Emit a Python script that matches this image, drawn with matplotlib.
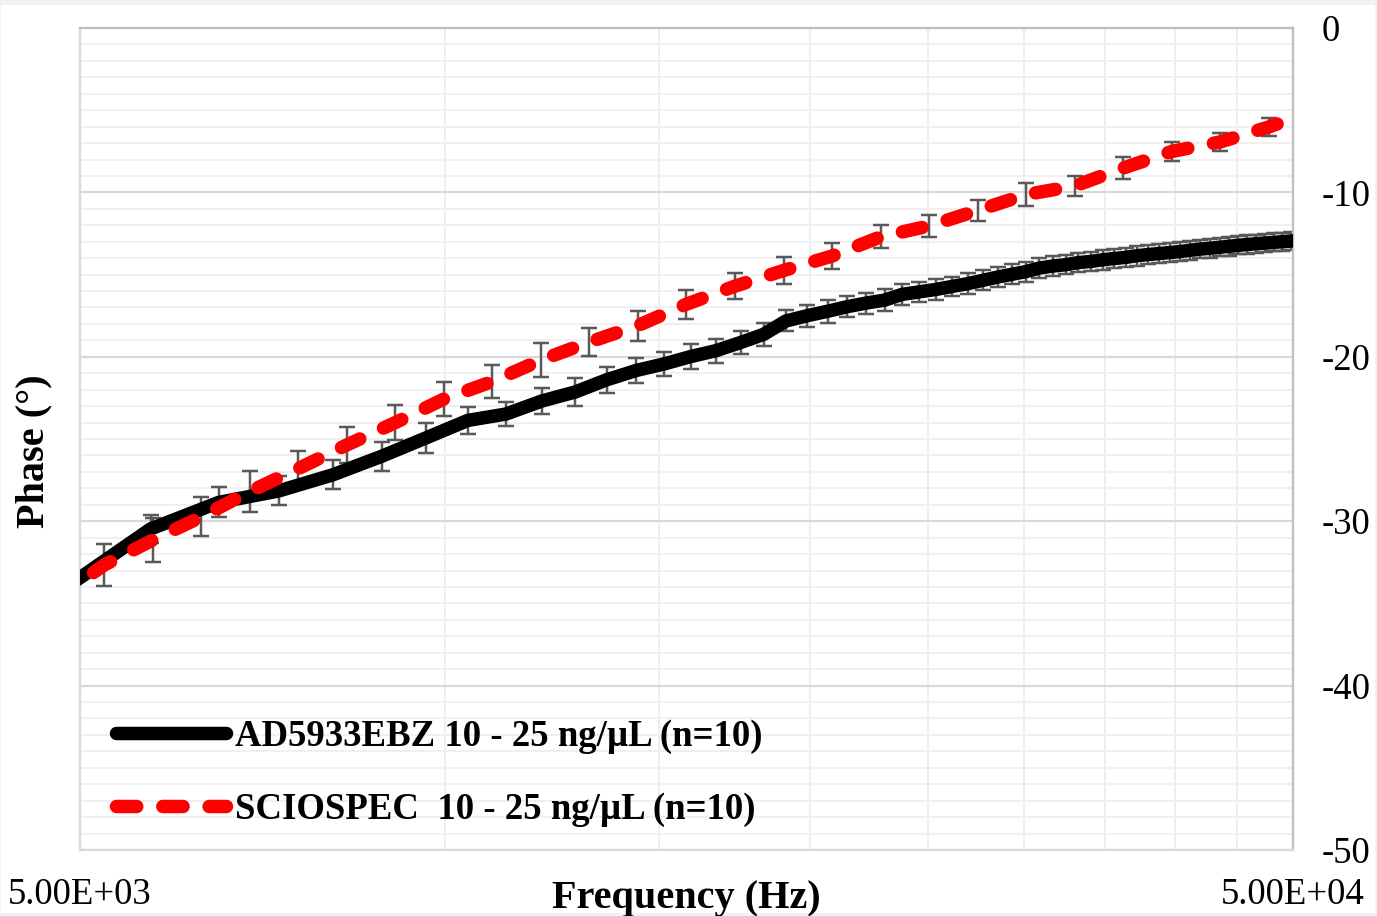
import matplotlib
matplotlib.use("Agg")
import matplotlib.pyplot as plt
from matplotlib.ticker import FixedLocator, NullFormatter, FixedFormatter
from matplotlib.font_manager import FontProperties
from matplotlib.patches import Rectangle

plt.rcParams['font.family'] = ['Liberation Serif', 'DejaVu Serif']
plt.rcParams['axes.unicode_minus'] = False

# ---------------- data ----------------
ad_freq = [4930, 5717, 6504, 7291, 8078, 8865, 9652, 10439, 11226, 12013,
           12800, 13587, 14374, 15161, 15948, 16735, 17522, 18309, 19096, 19883,
           20670, 21457, 22244, 23031, 23818, 24605, 25392, 26179, 26966, 27753,
           28540, 29327, 30114, 30901, 31688, 32475, 33262, 34049, 34836, 35623,
           36410, 37197, 37984, 38771, 39558, 40345, 41132, 41919, 42706, 43493,
           44280, 45067, 45854, 46641, 47428, 48215, 49002, 49789, 50576]
ad_phase = [-33.75, -30.47, -28.86, -28.16, -27.18, -26.05, -24.92, -23.87, -23.48, -22.69,
            -22.14, -21.40, -20.83, -20.43, -19.98, -19.62, -19.13, -18.63, -17.82, -17.50,
            -17.23, -16.95, -16.73, -16.55, -16.20, -16.05, -15.90, -15.72, -15.55, -15.35,
            -15.15, -14.98, -14.82, -14.60, -14.48, -14.40, -14.27, -14.20, -14.10, -14.02,
            -13.95, -13.85, -13.78, -13.72, -13.66, -13.60, -13.52, -13.45, -13.40, -13.34,
            -13.28, -13.22, -13.17, -13.12, -13.08, -13.04, -13.00, -12.96, -12.92]
ad_err = [0.90, 0.85, 0.91, 0.88, 0.88, 0.88, 0.91, 0.82, 0.73, 0.79,
          0.85, 0.79, 0.76, 0.73, 0.76, 0.73, 0.70, 0.70, 0.64, 0.67,
          0.70, 0.64, 0.64, 0.67, 0.65, 0.62, 0.64, 0.60, 0.62, 0.60,
          0.62, 0.60, 0.60, 0.62, 0.60, 0.58, 0.60, 0.58, 0.60, 0.58,
          0.58, 0.60, 0.58, 0.56, 0.58, 0.56, 0.58, 0.56, 0.56, 0.55,
          0.56, 0.55, 0.55, 0.55, 0.54, 0.55, 0.54, 0.54, 0.54]

sc_freq = [4775, 5236, 5741, 6295, 6902, 7568, 8298, 9099, 9976, 10939,
           11994, 13151, 14420, 15811, 17337, 19009, 20843, 22855, 25059, 27477,
           30128, 33035, 36222, 39716, 43548, 47750, 52360]
sc_phase = [-34.75, -32.66, -31.14, -29.74, -28.19, -26.80, -25.36, -24.00, -22.57, -21.50,
            -20.20, -19.10, -18.10, -16.80, -15.70, -14.75, -13.87, -12.70, -12.04, -11.10,
            -10.13, -9.61, -8.52, -7.51, -6.93, -6.02, -4.95]
sc_err = [1.30, 1.30, 1.33, 1.19, 1.22, 1.10, 1.12, 1.06, 1.06, 1.00,
          1.03, 0.88, 0.91, 0.88, 0.80, 0.82, 0.79, 0.70, 0.67, 0.64,
          0.70, 0.60, 0.67, 0.58, 0.55, 0.55, 0.55]

series_labels = ["AD5933EBZ 10 - 25 ng/\u00b5L (n=10)",
                 "SCIOSPEC  10 - 25 ng/\u00b5L (n=10)"]
x_tick_values = [5000, 50000]
x_tick_labels = ["5.00E+03", "5.00E+04"]
x_grid_values = [10000, 15000, 20000, 25000, 30000, 35000, 40000, 45000]
y_major = [-50, -40, -30, -20, -10, 0]
y_minor = [v for v in range(-50, 1)]

# ---------------- figure ----------------
W, H = 1377, 916
fig = plt.figure(figsize=(W / 100, H / 100), dpi=100, facecolor='#f2f2f2')
fig.patches.append(Rectangle((1 / W, 3 / H), 1374 / W, (913 - 4.5) / H,
                             transform=fig.transFigure, facecolor='white',
                             edgecolor='none', zorder=-10))

ax = fig.add_axes([80 / W, 1 - 850 / H, 1213 / W, 822 / H])
ax.set_facecolor('white')
ax.set_xscale('log')
ax.set_xlim(5000, 50000)
ax.set_ylim(-50, 0)

px = 0.72  # points per pixel at 100 dpi
err_kw = dict(fmt='none', ecolor='#595959', elinewidth=2.5 * px,
              capsize=8.3 * px, capthick=2.5 * px, zorder=2)
ax.errorbar(ad_freq, ad_phase, yerr=ad_err, **err_kw)
ax.errorbar(sc_freq, sc_phase, yerr=sc_err, **err_kw)

ax.plot(ad_freq, ad_phase, color='black', lw=13.5 * px,
        solid_capstyle='round', solid_joinstyle='round', zorder=3,
        label=series_labels[0])
ax.plot(sc_freq, sc_phase, color='#ff0000', lw=13.5 * px,
        dashes=(1.5, 1.93), dash_capstyle='round', dash_joinstyle='round',
        zorder=4, label=series_labels[1])

# ticks and grid
ax.xaxis.set_major_locator(FixedLocator(x_tick_values))
ax.xaxis.set_major_formatter(FixedFormatter(x_tick_labels))
ax.xaxis.set_minor_locator(FixedLocator(x_grid_values))
ax.xaxis.set_minor_formatter(NullFormatter())
ax.yaxis.set_major_locator(FixedLocator(y_major))
ax.yaxis.set_minor_locator(FixedLocator(y_minor))
ax.yaxis.set_major_formatter(FixedFormatter([str(v) for v in y_major]))
ax.yaxis.tick_right()

ax.tick_params(axis='both', which='both', length=0)
ax.tick_params(axis='y', which='major', pad=29 * px, labelsize=26.5, labelcolor='black')
ax.tick_params(axis='x', which='major', pad=27 * px, labelsize=26.5, labelcolor='black')

ax.set_axisbelow(True)
ax.grid(axis='y', which='minor', color='#f0f0f0', lw=2 * px)
ax.grid(axis='y', which='major', color='#d9d9d9', lw=2.2 * px)
ax.grid(axis='x', which='both', color='#eeeeee', lw=2 * px)

for side in ['top', 'right']:
    ax.spines[side].set_color('#bfbfbf')
    ax.spines[side].set_linewidth(2.3 * px)
for side in ['left', 'bottom']:
    ax.spines[side].set_color('#d9d9d9')
    ax.spines[side].set_linewidth(2.3 * px)

# axis titles
fig.text(686.5 / W, 1 - 908 / H, "Frequency (Hz)", ha='center', va='baseline',
         fontsize=29, fontweight='bold')
fig.text(34 / W, 1 - 451 / H, "Phase (\u00b0)", ha='center', va='center',
         rotation=90, fontsize=29, fontweight='bold')

# legend
leg = ax.legend(loc='upper left', bbox_to_anchor=((116 - 80) / 1213, (850 - 719) / 822),
                frameon=False, prop=FontProperties(family='Liberation Serif', weight='bold', size=26.5),
                handlelength=3.0, handletextpad=0.22, labelspacing=1.02,
                borderpad=0, borderaxespad=0)

fig.savefig('out.png', dpi=100, facecolor=fig.get_facecolor())
